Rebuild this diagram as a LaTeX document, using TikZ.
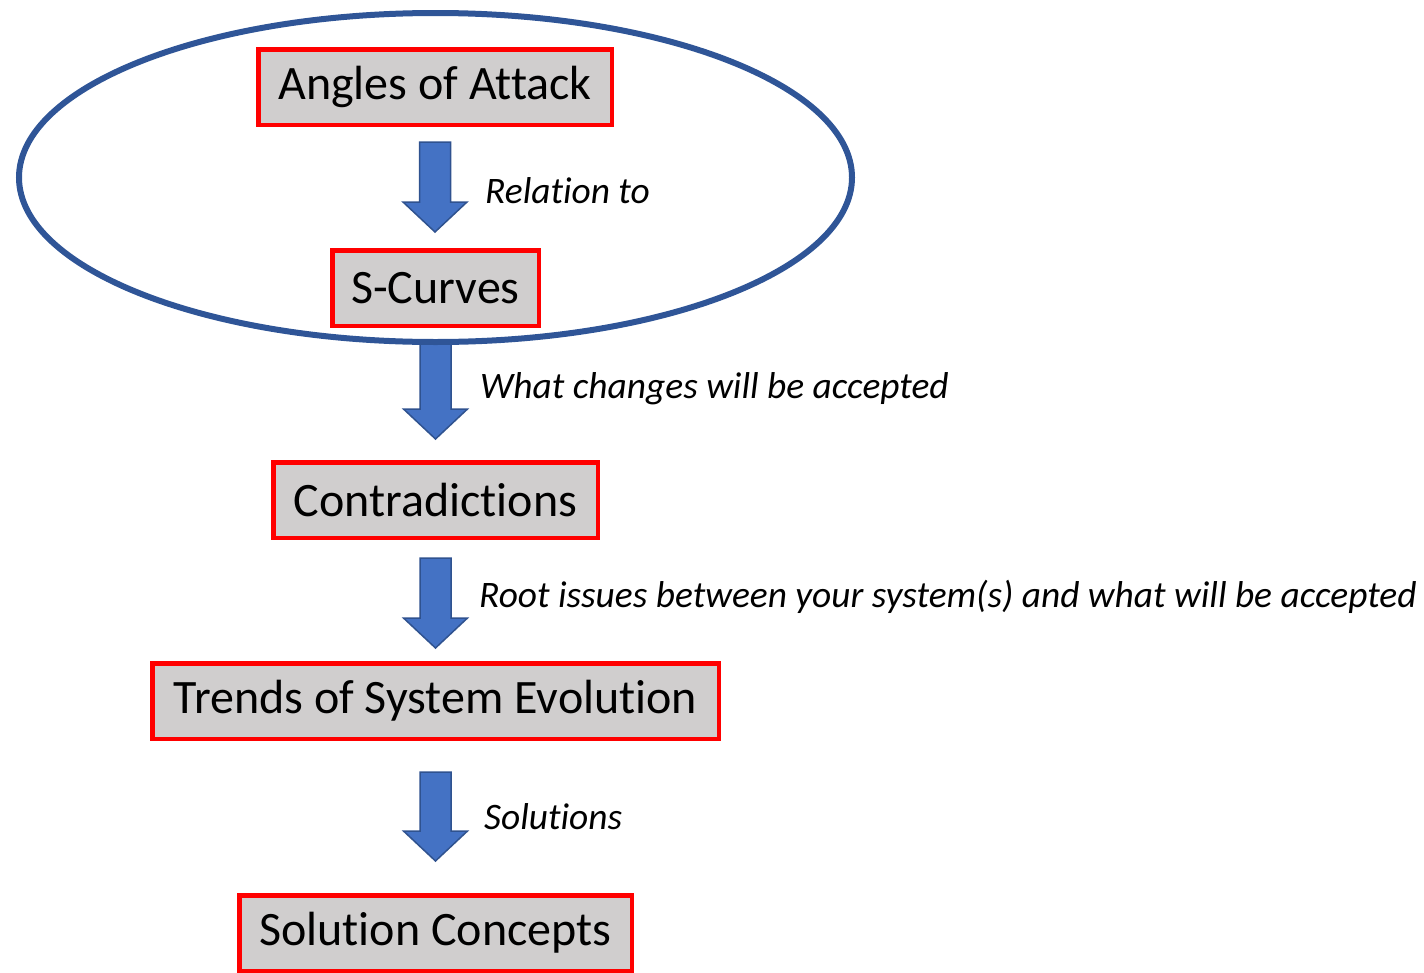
\documentclass[tikz,border=0pt]{standalone}
\usepackage{fontspec}
\setmainfont[RawFeature={-liga}]{Carlito}
\usetikzlibrary{calc,shapes.geometric}
\definecolor{boxgray}{HTML}{D0CECE}
\definecolor{ellblue}{HTML}{2F5597}
\definecolor{arrfill}{HTML}{4472C4}
\definecolor{arrline}{HTML}{2F528F}
\tikzset{
  box/.style={draw=red, line width=4.5pt, fill=boxgray, inner sep=0pt,
    minimum height=75.5pt, font=\fontsize{48}{56}\selectfont},
  lab/.style={anchor=west, inner sep=0pt, font=\fontsize{37.4}{44}\selectfont\itshape},
  arr/.style={fill=arrfill, draw=arrline, line width=1.5pt, line join=miter}
}
\newcommand\blockarrow[2]{%
  \path[arr] let \p1=(#1), \p2=(#2) in
    (\x1-15.5pt,\y1) -- (\x1+15.5pt,\y1) -- (\x1+15.5pt,\y2+30pt) -- (\x1+32pt,\y2+30pt)
    -- (\x1,\y2) -- (\x1-32pt,\y2+30pt) -- (\x1-15.5pt,\y2+30pt) -- cycle;}
\begin{document}
\begin{tikzpicture}[x=1pt,y=-1pt]
\useasboundingbox (0,0) rectangle (1424,972);
\node[box, minimum width=353.5pt] (a) at (435,87) {Angles of Attack};
\node[box, minimum width=206.5pt] (s) at (435.5,288) {S-Curves};
\node[box, minimum width=324.5pt] (c) at (435.5,500) {Contradictions};
\node[box, minimum width=566.5pt] (t) at (435.5,701) {Trends of System Evolution};
\node[box, minimum width=392.5pt] (sc) at (435.5,933) {Solution Concepts};
\blockarrow{$(a.south)+(0,15)$}{$(s.north)+(0,-16)$}
\blockarrow{$(s.south)+(0,16)$}{$(c.north)+(0,-21)$}
\blockarrow{$(c.south)+(0,18)$}{$(t.north)+(0,-13)$}
\blockarrow{$(t.south)+(0,31)$}{$(sc.north)+(0,-32)$}
\node[draw=ellblue, line width=6pt, ellipse, minimum width=833pt, minimum height=329pt, inner sep=0pt] (e) at (435.5,177.5) {};
\node[lab] (l1) at (485,191) {Relation to};
\node[lab] (l2) at (480,389) {What changes will be accepted};
\node[lab] (l3) at (479,597) {Root issues between your system(s) and what will be accepted};
\node[lab] (l4) at (484,817) {Solutions};
\end{tikzpicture}
\end{document}
